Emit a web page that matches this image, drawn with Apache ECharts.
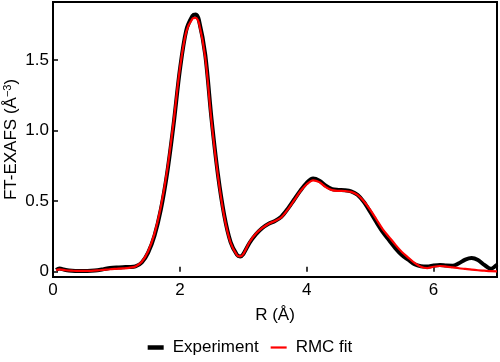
<!DOCTYPE html>
<html>
<head>
<meta charset="utf-8">
<script src="https://cdn.jsdelivr.net/npm/echarts@6/dist/echarts.min.js"></script>
<style>html,body{margin:0;padding:0;background:#fff}#c{width:500px;height:362px}</style>
</head>
<body>
<div id="c"></div>
<script>
var rValues = [0.05,0.1,0.2,0.3,0.4,0.5,0.6,0.7,0.8,0.9,1.0,1.1,1.2,1.3,1.4,1.5,1.6,1.7,1.8,1.9,2.0,2.1,2.2,2.25,2.3,2.4,2.5,2.6,2.7,2.8,2.9,2.95,3.0,3.1,3.2,3.3,3.4,3.5,3.6,3.7,3.8,3.9,4.0,4.1,4.2,4.3,4.4,4.5,4.6,4.7,4.8,4.9,5.0,5.1,5.2,5.3,5.4,5.5,5.6,5.7,5.8,5.9,6.0,6.1,6.2,6.3,6.4,6.5,6.6,6.7,6.8,6.9,7.0];
var experiment = [0.012,0.022,0.012,0.006,0.004,0.004,0.006,0.010,0.018,0.026,0.030,0.032,0.033,0.037,0.065,0.135,0.255,0.44,0.70,1.04,1.43,1.71,1.815,1.825,1.785,1.54,1.08,0.69,0.40,0.21,0.12,0.108,0.125,0.205,0.265,0.31,0.34,0.36,0.39,0.445,0.51,0.575,0.63,0.66,0.645,0.61,0.585,0.58,0.578,0.57,0.545,0.495,0.425,0.35,0.28,0.222,0.165,0.118,0.085,0.052,0.038,0.036,0.043,0.047,0.043,0.042,0.06,0.085,0.096,0.082,0.048,0.02,0.05];
var rmcFit = [0.012,0.016,0.010,0.007,0.005,0.005,0.006,0.009,0.013,0.017,0.020,0.023,0.027,0.037,0.07,0.145,0.27,0.46,0.72,1.06,1.44,1.70,1.795,1.80,1.765,1.52,1.06,0.68,0.39,0.205,0.118,0.108,0.125,0.21,0.27,0.31,0.34,0.36,0.385,0.44,0.505,0.57,0.62,0.648,0.635,0.60,0.578,0.573,0.572,0.566,0.545,0.50,0.44,0.37,0.30,0.245,0.19,0.14,0.10,0.062,0.034,0.025,0.035,0.04,0.036,0.03,0.024,0.019,0.014,0.010,0.007,0.004,0.002];
var xTicks = [0,2,4,6];
var yTicks = [0,0.5,1.0,1.5];

function pairs(xs, ys){ return xs.map(function(x,i){ return [x, ys[i]]; }); }

var font = 'Liberation Sans';
var chart = echarts.init(document.getElementById('c'), null, {renderer:'canvas'});
chart.setOption({
  animation: false,
  backgroundColor: '#fff',
  textStyle: {fontFamily: font, color: '#000'},
  grid: {left: 53, right: 3, top: 2, bottom: 85, show: true, borderColor: '#000', borderWidth: 2, backgroundColor: 'transparent', containLabel: false, outerBoundsMode: 'none'},
  legend: {
    bottom: 1, left: 'center', itemWidth: 16, itemHeight: 14, itemGap: 12,
    textStyle: {fontFamily: font, fontSize: 17, color: '#000', padding: [0,0,0,4]},
    data: [
      {name: 'Experiment', icon: 'path://M0,0h16v4.5h-16z', itemStyle: {color: '#000'}},
      {name: 'RMC fit', icon: 'path://M0,0h16v2.2h-16z', itemStyle: {color: '#ff0000'}}
    ]
  },
  xAxis: {
    type: 'value', min: 0, max: 7,
    name: 'R (Å)', nameLocation: 'middle', nameGap: 30,
    nameTextStyle: {fontFamily: font, fontSize: 17, color: '#000'},
    axisLine: {show: false},
    axisTick: {show: true, inside: true, length: 5, lineStyle: {color: '#000', width: 1.5}, customValues: xTicks},
    axisLabel: {fontFamily: font, fontSize: 17, color: '#000', margin: 5, customValues: xTicks},
    splitLine: {show: false}
  },
  yAxis: {
    type: 'value', min: -0.038, max: 1.913,
    name: 'FT-EXAFS (Å{sup|−3})', nameLocation: 'middle', nameGap: 32, nameMoveOverlap: false,
    nameTextStyle: {fontFamily: font, fontSize: 17, color: '#000', rich: {sup: {fontFamily: font, fontSize: 11, color: '#000', verticalAlign: 'top', padding: [0,0,8,0]}}},
    axisLine: {show: false},
    axisTick: {show: true, inside: true, length: 5, lineStyle: {color: '#000', width: 1.5}, customValues: yTicks},
    axisLabel: {fontFamily: font, fontSize: 17, color: '#000', margin: 4, customValues: yTicks,
      formatter: function(v){ return v === 0 ? '0' : v.toFixed(1); }},
    splitLine: {show: false}
  },
  series: [
    {name: 'Experiment', type: 'line', data: pairs(rValues, experiment), smooth: 0.3, showSymbol: false, symbol: 'none',
      lineStyle: {color: '#000', width: 4}, itemStyle: {color: '#000'}, z: 2},
    {name: 'RMC fit', type: 'line', data: pairs(rValues, rmcFit), smooth: 0.3, showSymbol: false, symbol: 'none',
      lineStyle: {color: '#ff0000', width: 2.2}, itemStyle: {color: '#ff0000'}, z: 3}
  ]
});
</script>
</body>
</html>
